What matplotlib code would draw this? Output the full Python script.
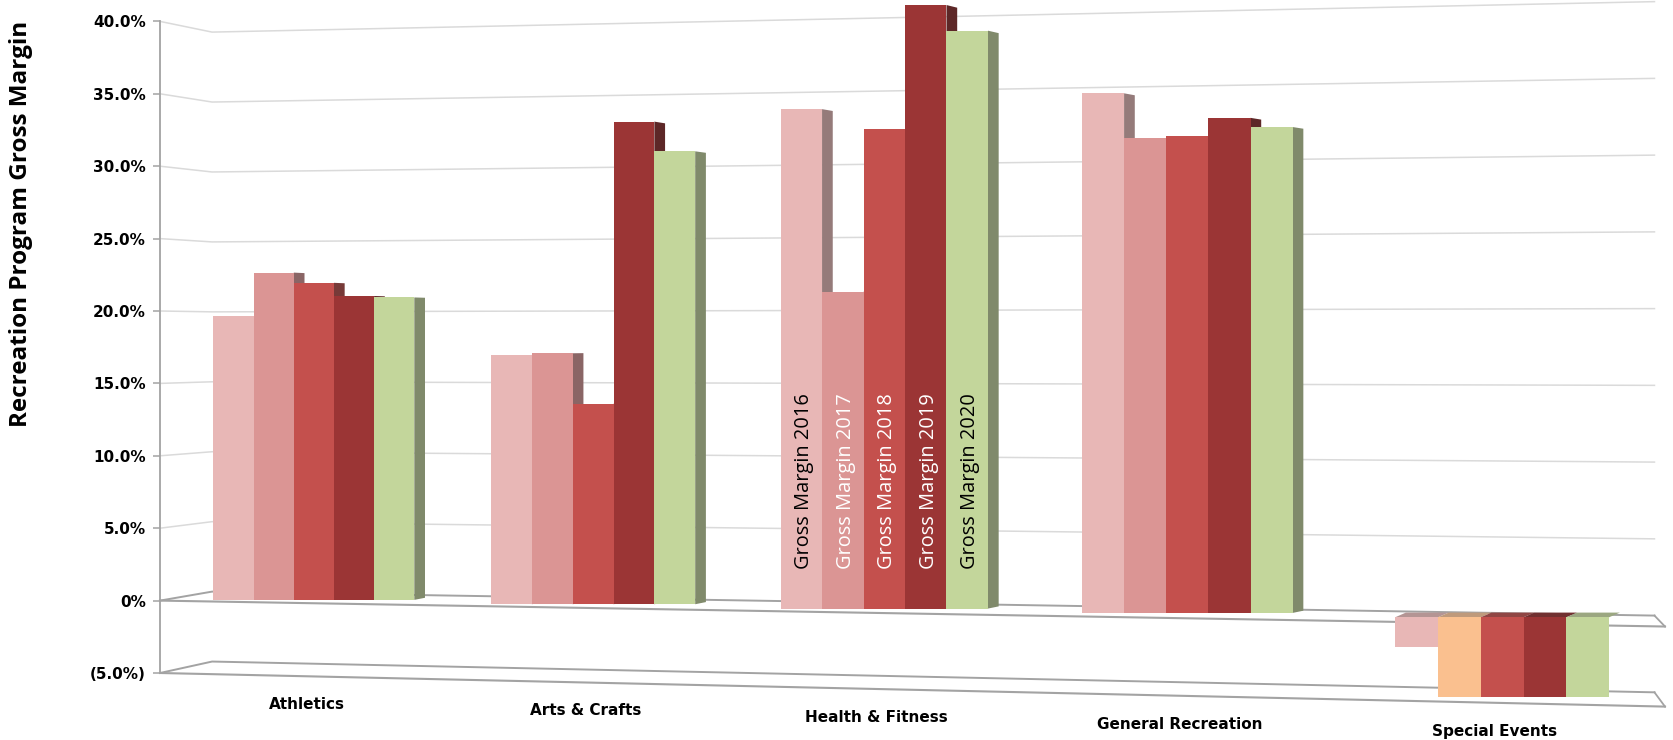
import matplotlib
matplotlib.use("Agg")
import matplotlib.pyplot as plt
from matplotlib.patches import Polygon
from matplotlib.transforms import Affine2D, blended_transform_factory
from matplotlib.colors import to_rgb

# ---------------------------------------------------------------- data
categories = ["Athletics", "Arts & Crafts", "Health & Fitness",
              "General Recreation", "Special Events"]
series_names = ["Gross Margin 2016", "Gross Margin 2017", "Gross Margin 2018",
                "Gross Margin 2019", "Gross Margin 2020"]
gm_2016 = [19.4, 16.8, 33.1, 33.9, -1.9]
gm_2017 = [22.4, 16.9, 21.0, 31.0, -5.1]
gm_2018 = [21.7, 13.5, 31.8, 31.1, -5.1]
gm_2019 = [20.8, 32.5, 40.0, 32.3, -5.1]
gm_2020 = [20.7, 30.5, 38.3, 31.7, -5.1]
tick_values = [-5, 0, 5, 10, 15, 20, 25, 30, 35, 40]
tick_labels = ["(5.0%)", "0%", "5.0%", "10.0%", "15.0%", "20.0%",
               "25.0%", "30.0%", "35.0%", "40.0%"]
labelled_category = "Health & Fitness"

series = [gm_2016, gm_2017, gm_2018, gm_2019, gm_2020]

# ---------------------------------------------------------------- styles
series_colors = ["#E8B7B6", "#DB9594", "#C4504D", "#9B3535", "#C3D69B"]
point_colors = {(4, 1): "#FAC08F"}          # (category, series) overrides
label_colors = ["black", "white", "white", "white", "black"]
grid_color = "#DADADA"
edge_color = "#A3A3A3"


def darker(color, f=0.66):
    r, g, b = to_rgb(color)
    grey = (r + g + b) / 3
    return tuple(f * (0.8 * c + 0.2 * grey) for c in (r, g, b))


fig = plt.figure(figsize=(16.74, 7.40), dpi=100)
ax = fig.add_axes([160 / 1674, 67 / 740, 1505 / 1674, 651.6 / 740])
ax.set_xlim(-0.518, 4.548)
ax.set_ylim(-5, 40)
ax.set_facecolor("white")
for name in ("top", "right", "bottom"):
    ax.spines[name].set_visible(False)
ax.spines["left"].set_color(edge_color)
ax.spines["left"].set_linewidth(1.3)
ax.set_xticks([])
ax.set_yticks(tick_values)
ax.set_yticklabels(tick_labels, fontsize=11, fontweight="bold",
                   family="DejaVu Sans")
ax.tick_params(axis="y", length=5, width=1.1, color=edge_color, pad=5)

# ---------------------------------------------------------------- walls
wall = blended_transform_factory(ax.transAxes, ax.transData)
WALL_X = 0.0346


def wall_left(v):
    return 0.621 + 0.966 * v


def wall_right(v):
    return -1.035 + 1.060 * v


for v in tick_values:
    strong = v in (0, -5)
    ax.plot([0, WALL_X, 0.993], [v, wall_left(v), wall_right(v)],
            transform=wall, color=edge_color if strong else grid_color,
            lw=1.4 if strong else 1.1, zorder=1, clip_on=False,
            solid_joinstyle="round")


def front_edge(v, frac):
    # front edge of the plane at level v, sloping down to the right
    drop = {0: -1.79, -5: -2.32}[v]
    return v + drop * frac


for v in (0, -5):
    ax.plot([0, 1.0], [v, front_edge(v, 1.0)], transform=wall,
            color=edge_color, lw=1.5, zorder=1.5, clip_on=False)
    ax.plot([0.993, 1.0], [wall_right(v), front_edge(v, 1.0)],
            transform=wall, color=edge_color, lw=1.3, zorder=1.5,
            clip_on=False)

# ---------------------------------------------------------------- bars
EYE = 18.0       # level at which receding edges stay flat
DEPTH_X = 0.036  # horizontal depth of each bar
SHRINK = 0.008   # vertical convergence of receding edges
n_series = len(series)

x0, x1 = ax.get_xlim()
for i, cat in enumerate(categories):
    k = 1.009 + 0.0165 * i
    shift = 0.05 - 0.3 * i
    xc = i - 0.02 * i * (4 - i)
    w = 0.134 * k
    tr = Affine2D().scale(1, k).translate(0, shift) + ax.transData
    for j, vals in enumerate(series):
        v = vals[i]
        color = point_colors.get((i, j), series_colors[j])
        xl = xc + (j - (n_series - 1) / 2) * w - w / 2
        xr = xl + w
        z = 3 + 2 * j
        if v > 0:
            side = Polygon([(xr, 0), (xr, v),
                            (xr + DEPTH_X, v - (v - EYE) * SHRINK),
                            (xr + DEPTH_X, EYE * SHRINK)],
                           closed=True, facecolor=darker(color),
                           edgecolor="none", transform=tr, zorder=z,
                           clip_on=False)
            ax.add_patch(side)
        else:
            top = Polygon([(xl, 0), (xr, 0), (xr + DEPTH_X, 0.3),
                           (xl + DEPTH_X, 0.3)], closed=True,
                          facecolor=darker(color, 0.8), edgecolor="none",
                          transform=tr, zorder=z, clip_on=False)
            ax.add_patch(top)
        ax.bar(xl, v, width=w, align="edge", color=color, linewidth=0,
               transform=tr, zorder=z + 1, clip_on=False)
        if cat == labelled_category:
            ax.text(xl + w / 2 + 0.01, 2.6, series_names[j], rotation=90,
                    ha="center", va="bottom", transform=tr,
                    color=label_colors[j], fontsize=14.4,
                    family="Open Sans", zorder=40)

    frac = (xc - x0) / (x1 - x0)
    ax.text(xc - 0.025, front_edge(-5, frac) - 1.95, cat, ha="center",
            va="center", fontsize=11, fontweight="bold",
            family="DejaVu Sans", color="black", clip_on=False)

fig.text(21 / 1674, 1 - 224 / 740, "Recreation Program Gross Margin",
         rotation=90, ha="center", va="center", fontsize=17.5,
         fontweight="bold", family="Open Sans", color="black")

fig.savefig("out.png", dpi=100, facecolor="white")
